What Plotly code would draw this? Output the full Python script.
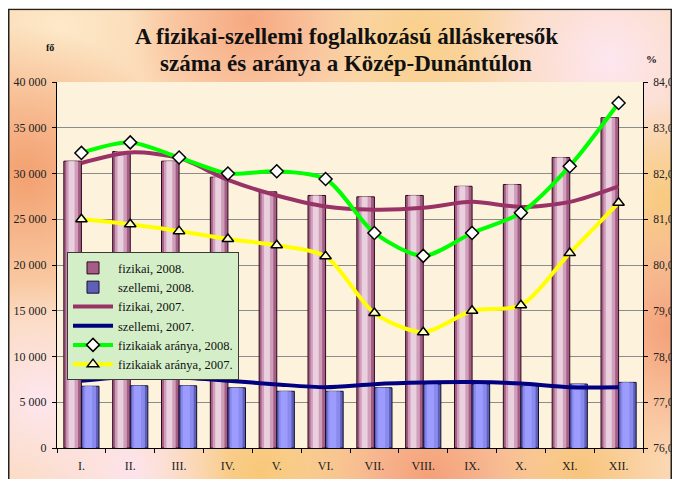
import base64
import plotly.graph_objects as go

# ---------------- data ----------------
months = ["I.", "II.", "III.", "IV.", "V.", "VI.", "VII.", "VIII.", "IX.", "X.", "XI.", "XII."]
fizikai_2008 = [31350, 32400, 31350, 29600, 28000, 27600, 27450, 27600, 28600, 28800, 31750, 36100]
szellemi_2008 = [6750, 6800, 6800, 6580, 6200, 6200, 6580, 6990, 6990, 6770, 6990, 7170]
fizikai_2007 = [31150, 32300, 31700, 29300, 27600, 26400, 26050, 26250, 26900, 26350, 26900, 28600]
szellemi_2007 = [7350, 7800, 7700, 7350, 6950, 6650, 6980, 7150, 7200, 7050, 6650, 6650]
arany_2008 = [82.45, 82.68, 82.35, 82.0, 82.05, 81.88, 80.70, 80.20, 80.70, 81.14, 82.16, 83.54]
arany_2007 = [81.0, 80.89, 80.74, 80.57, 80.43, 80.19, 78.95, 78.53, 79.0, 79.12, 80.26, 81.36]

left_ticks = [0, 5000, 10000, 15000, 20000, 25000, 30000, 35000, 40000]
right_ticks = [76, 77, 78, 79, 80, 81, 82, 83, 84]

# ---------------- layout geometry ----------------
# the page adds an 8 px margin and the visible width ends near 672 px
OFF = 8
W, H = 672 - OFF, 479 - OFF
PLOT_L, PLOT_R, PLOT_T, PLOT_B = 57, 643, 81.5, 448   # screen pixels of the plot area
L, T = PLOT_L - OFF, PLOT_T - OFF
R, B = W - (PLOT_R - OFF), H - (PLOT_B - OFF)
pw, ph = W - L - R, H - T - B

SERIF = "Liberation Serif, Times New Roman, serif"
TICKSIZE = 12


def sx(p):
    """screen column -> figure column"""
    return p - OFF


def sy(p):
    return p - OFF


# background (gradient-like paper + cream plot area + frame)
blobs = [
    (60, 30, 110, "#fde9c8"),
    (25, 175, 150, "#f3a070"),
    (40, 400, 120, "#fde6ee"),
    (250, 20, 120, "#f6a880"),
    (420, 40, 110, "#f9cf88"),
    (610, 60, 140, "#fde6f0"),
    (665, 200, 100, "#f8ca80"),
    (675, 330, 130, "#f4a078"),
    (430, 478, 150, "#f4a078"),
    (260, 472, 120, "#f8c878"),
    (130, 470, 100, "#fde4ec"),
    (580, 470, 90, "#f8c47c"),
]
defs = ""
circles = ""
for i, (cx, cy, r, c) in enumerate(blobs):
    defs += (f'<radialGradient id="g{i}"><stop offset="0" stop-color="{c}" stop-opacity="1"/>'
             f'<stop offset="1" stop-color="{c}" stop-opacity="0"/></radialGradient>')
    circles += f'<circle cx="{sx(cx)}" cy="{sy(cy)}" r="{r}" fill="url(#g{i})"/>'
svg = (f'<svg xmlns="http://www.w3.org/2000/svg" width="{W}" height="{H}" viewBox="0 0 {W} {H}">'
       f'<defs>{defs}</defs>'
       f'<rect x="0" y="0" width="{W}" height="{H}" fill="#fbd8b4"/>'
       f'{circles}'
       f'<rect x="{L}" y="{T}" width="{pw}" height="{ph}" fill="#fdf3dd"/>'
       f'<rect x="0.75" y="0.75" width="{W-1.5}" height="{H+10}" fill="none" stroke="#222" stroke-width="1.5"/>'
       f'</svg>')
bg_uri = "data:image/svg+xml;base64," + base64.b64encode(svg.encode()).decode()

fig = go.Figure()

# fizikai 2008 bars (cylinder-like shading via layered bars)
fig.add_trace(go.Bar(x=months, y=fizikai_2008, name="fizikai, 2008.", width=0.36, offset=-0.36,
                     marker=dict(color="#a55d86", line=dict(color="#2a0a1c", width=1))))
fig.add_trace(go.Bar(x=months, y=fizikai_2008, showlegend=False, hoverinfo="skip", width=0.24, offset=-0.31,
                     marker=dict(color="#cf9fba", line=dict(width=0))))
fig.add_trace(go.Bar(x=months, y=fizikai_2008, showlegend=False, hoverinfo="skip", width=0.12, offset=-0.26,
                     marker=dict(color="#ead0de", line=dict(width=0))))

# szellemi 2008 bars
fig.add_trace(go.Bar(x=months, y=szellemi_2008, name="szellemi, 2008.", width=0.36, offset=0,
                     marker=dict(color="#5f5fb8", line=dict(color="#101030", width=1))))
fig.add_trace(go.Bar(x=months, y=szellemi_2008, showlegend=False, hoverinfo="skip", width=0.26, offset=0.04,
                     marker=dict(color="#8a8aee", line=dict(width=0))))
fig.add_trace(go.Bar(x=months, y=szellemi_2008, showlegend=False, hoverinfo="skip", width=0.14, offset=0.08,
                     marker=dict(color="#9c9cff", line=dict(width=0))))

# 2007 lines (left axis)
fig.add_trace(go.Scatter(x=months, y=fizikai_2007, name="fizikai, 2007.", mode="lines",
                         line=dict(color="#993366", width=4, shape="spline", smoothing=0.8)))
fig.add_trace(go.Scatter(x=months, y=szellemi_2007, name="szellemi, 2007.", mode="lines",
                         line=dict(color="#000080", width=4, shape="spline", smoothing=0.8)))

# ratio lines (right axis)
fig.add_trace(go.Scatter(x=months, y=arany_2008, name="fizikaiak aránya, 2008.", mode="lines+markers",
                         yaxis="y2",
                         line=dict(color="#00ff00", width=4, shape="spline", smoothing=0.8),
                         marker=dict(symbol="diamond", size=10, color="#ffffff",
                                     line=dict(color="#000000", width=1.5))))
fig.add_trace(go.Scatter(x=months, y=arany_2007, name="fizikaiak aránya, 2007.", mode="lines+markers",
                         yaxis="y2",
                         line=dict(color="#ffff00", width=4, shape="spline", smoothing=0.8),
                         marker=dict(symbol="triangle-up", size=10, color="#ffffcc",
                                     line=dict(color="#000000", width=1.5))))


def py(p):
    """screen pixel row -> paper y"""
    return (H - B - sy(p)) / ph


def px(p):
    return (sx(p) - L) / pw


fig.update_layout(
    width=W, height=H,
    margin=dict(l=L, r=R, t=T, b=B, pad=0, autoexpand=False),
    paper_bgcolor="rgba(0,0,0,0)",
    plot_bgcolor="rgba(0,0,0,0)",
    barmode="overlay",
    separators=", ",
    font=dict(family=SERIF, size=TICKSIZE, color="#222222"),
    showlegend=True,
    legend=dict(x=px(67), y=py(252), xanchor="left", yanchor="top",
                bgcolor="#d4efc8", bordercolor="#3a3a3a", borderwidth=1,
                font=dict(family=SERIF, size=12.5, color="#111111"),
                traceorder="normal", tracegroupgap=0, itemwidth=40),
    xaxis=dict(type="category", range=[-0.5, 11.5], showgrid=False, automargin=False,
               showline=True, linecolor="#000000", linewidth=1,
               ticks="outside", tickson="boundaries", ticklen=4, tickcolor="#000000",
               tickfont=dict(family=SERIF, size=TICKSIZE, color="#222222"),
               ticklabelstandoff=7, fixedrange=True),
    yaxis=dict(range=[0, 40000], tickvals=left_ticks, tickformat=",d", automargin=False,
               showgrid=True, gridcolor="#8c8c8c", gridwidth=1,
               showline=True, linecolor="#000000", linewidth=1,
               ticks="outside", ticklen=4, tickcolor="#000000",
               tickfont=dict(family=SERIF, size=TICKSIZE, color="#222222"),
               ticklabelstandoff=3, zeroline=False, fixedrange=True),
    yaxis2=dict(range=[76, 84], tickvals=right_ticks, tickformat=".1f", automargin=False,
                overlaying="y", side="right", showgrid=False,
                showline=True, linecolor="#000000", linewidth=1,
                ticks="outside", ticklen=4, tickcolor="#000000",
                tickfont=dict(family=SERIF, size=11.5, color="#222222"),
                ticklabelstandoff=3, zeroline=False, fixedrange=True),
    images=[dict(source=bg_uri, xref="paper", yref="paper",
                 x=-L / pw, y=(H - B) / ph, sizex=W / pw, sizey=H / ph,
                 xanchor="left", yanchor="top", sizing="stretch", layer="below")],
    annotations=[
        dict(text="<b>A fizikai-szellemi foglalkozású álláskeresők</b>", x=px(346), y=py(36),
             xref="paper", yref="paper", showarrow=False, xanchor="center", yanchor="middle",
             font=dict(family=SERIF, size=23, color="#111111")),
        dict(text="<b>száma és aránya a Közép-Dunántúlon</b>", x=px(346), y=py(63),
             xref="paper", yref="paper", showarrow=False, xanchor="center", yanchor="middle",
             font=dict(family=SERIF, size=23, color="#111111")),
        dict(text="<b>fő</b>", x=px(50), y=py(47), xref="paper", yref="paper", showarrow=False,
             xanchor="center", yanchor="middle", font=dict(family=SERIF, size=10, color="#111111")),
        dict(text="<b>%</b>", x=px(651), y=py(58), xref="paper", yref="paper", showarrow=False,
             xanchor="center", yanchor="middle", font=dict(family=SERIF, size=11, color="#111111")),
    ],
)

fig.write_html("out.html")
